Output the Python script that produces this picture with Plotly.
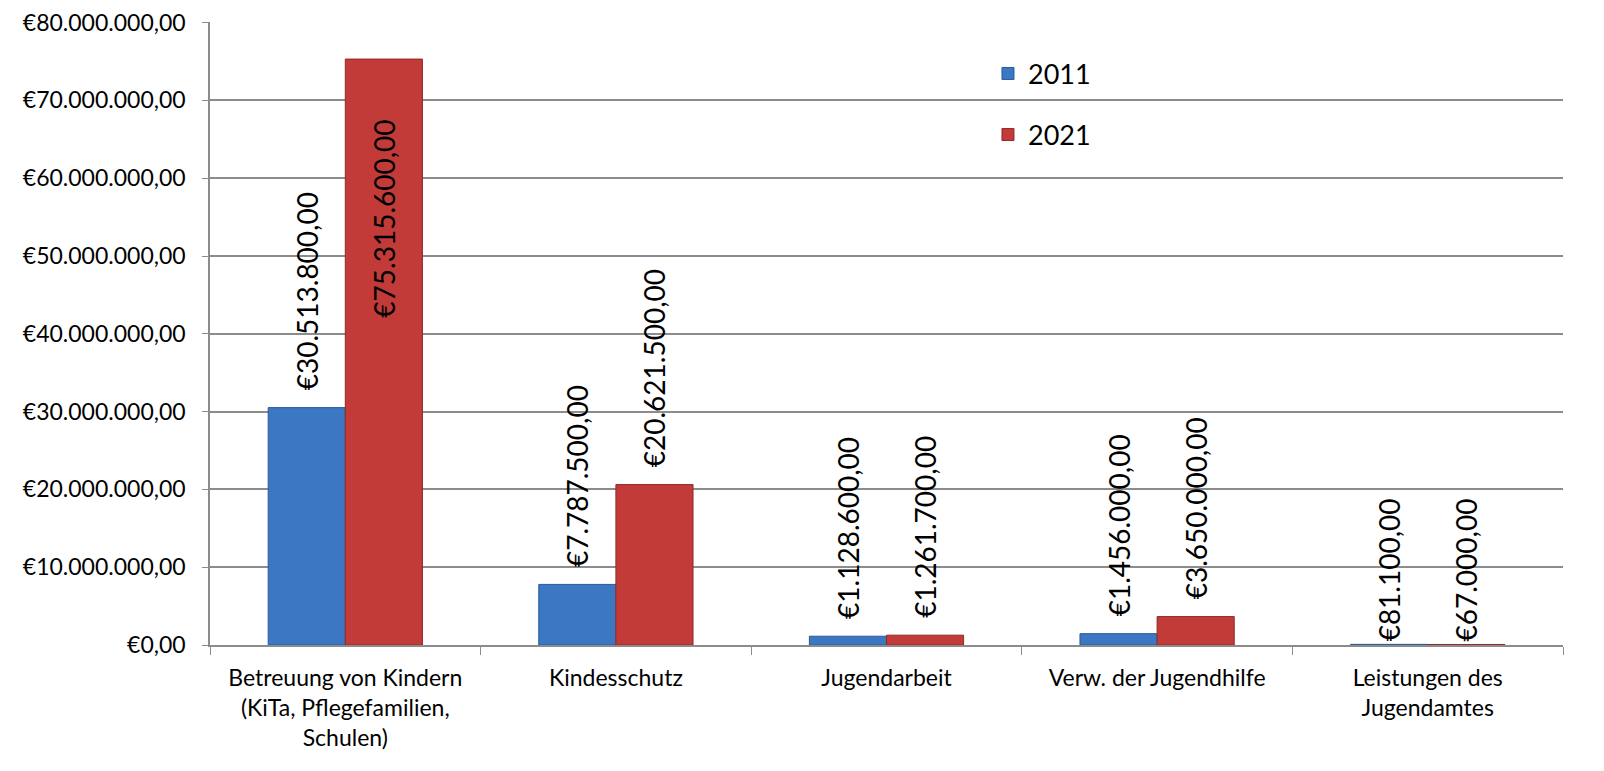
import plotly.graph_objects as go

categories = [
    "Betreuung von Kindern<br>(KiTa, Pflegefamilien,<br>Schulen)",
    "Kindesschutz",
    "Jugendarbeit",
    "Verw. der Jugendhilfe",
    "Leistungen des<br>Jugendamtes",
]
values_2011 = [30513800, 7787500, 1128600, 1456000, 81100]
values_2021 = [75315600, 20621500, 1261700, 3650000, 67000]
y_ticks = [0, 10000000, 20000000, 30000000, 40000000, 50000000, 60000000, 70000000, 80000000]


def eur(v):
    s = f"{v:,.2f}"
    s = s.replace(",", "X").replace(".", ",").replace("X", ".")
    return "€" + s


def label(v, inside=False):
    # pad with non-breaking spaces so the rotated label sits a bit off the bar
    if inside:
        return eur(v) + "\u00a0" * 8
    if v > 1000000:
        return "\u00a0\u00a0" + eur(v)
    return eur(v)


font = "Lato, 'Noto Sans', sans-serif"
lab_font = dict(size=28, color="black", family=font)

fig = go.Figure()

fig.add_trace(go.Bar(
    x=categories, y=values_2011, name="2011",
    marker=dict(color="#3b77c3", line=dict(color="#2a5a96", width=1)),
    text=[label(v) for v in values_2011],
    textposition="outside", textangle=-90,
    textfont=lab_font, constraintext="none",
    cliponaxis=False, legendgroup="a",
))

inside_2021 = [v > 60000000 for v in values_2021]
fig.add_trace(go.Bar(
    x=categories, y=values_2021, name="2021",
    marker=dict(color="#c23b38", line=dict(color="#8e2a28", width=1)),
    text=[label(v, i) for v, i in zip(values_2021, inside_2021)],
    textposition=["inside" if i else "outside" for i in inside_2021],
    textangle=-90, insidetextanchor="end",
    textfont=lab_font, constraintext="none",
    cliponaxis=False, legendgroup="b",
))

fig.update_layout(
    width=1588, height=755,
    margin=dict(l=202, r=33, t=14, b=118),
    plot_bgcolor="white", paper_bgcolor="white",
    barmode="group", bargap=0.43, bargroupgap=0,
    font=dict(family=font, size=23, color="black"),
    legend=dict(
        x=0.575, y=0.956, xanchor="left", yanchor="top",
        font=dict(size=27), tracegroupgap=23,
        bgcolor="rgba(0,0,0,0)",
    ),
    showlegend=True,
)

fig.update_yaxes(
    range=[0, 80080000], tickvals=y_ticks,
    ticktext=[eur(v) for v in y_ticks],
    showgrid=True, gridcolor="#8c8c8c", gridwidth=1.5,
    showline=True, linecolor="#8c8c8c", linewidth=1.5,
    ticks="outside", ticklen=6, tickcolor="#8c8c8c",
    zeroline=False, tickfont=dict(size=23),
    ticklabeloverflow="allow", ticklabelstandoff=12, automargin=False,
)
fig.update_xaxes(
    showline=True, linecolor="#8c8c8c", linewidth=1.5,
    ticks="outside", tickson="boundaries", ticklen=8, tickcolor="#8c8c8c",
    tickfont=dict(size=23), ticklabelstandoff=12, automargin=False,
)

fig.write_html("out.html")
